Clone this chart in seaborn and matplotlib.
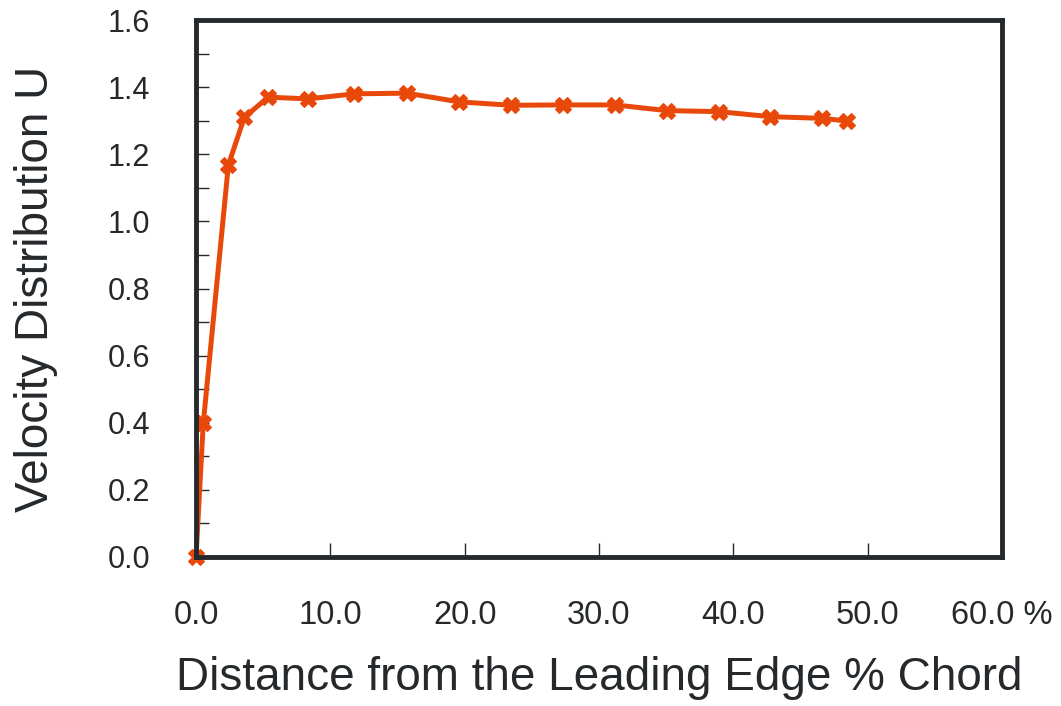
import matplotlib
matplotlib.use("Agg")
import matplotlib.pyplot as plt
import seaborn as sns
import pandas as pd
import numpy as np
from matplotlib.ticker import MultipleLocator

# Data
distance = [0.0, 0.54, 2.41, 3.60, 5.38, 8.36, 11.76, 15.69, 19.61, 23.43,
            27.35, 31.20, 35.05, 38.92, 42.74, 46.59, 48.45]
velocity = [0.0, 0.398, 1.168, 1.310, 1.370, 1.365, 1.380, 1.382, 1.356, 1.346,
            1.347, 1.347, 1.330, 1.327, 1.312, 1.307, 1.299]
x_tick_values = [0, 10, 20, 30, 40, 50, 60]
x_tick_labels = ["0.0", "10.0", "20.0", "30.0", "40.0", "50.0", "60.0 %"]
y_tick_values = [0.0, 0.2, 0.4, 0.6, 0.8, 1.0, 1.2, 1.4, 1.6]
y_tick_labels = ["0.0", "0.2", "0.4", "0.6", "0.8", "1.0", "1.2", "1.4", "1.6"]

df = pd.DataFrame({"distance": distance, "velocity": velocity})

sns.set_style("white")
plt.rcParams["font.family"] = ["Liberation Sans", "DejaVu Sans"]

ink = "#25292c"
line_color = "#e8490a"

fig = plt.figure(figsize=(10.61, 7.06), dpi=100)
ax = fig.add_axes([196 / 1061, 1 - 557 / 706, (1002 - 196) / 1061, (557 - 20) / 706])

sns.lineplot(data=df, x="distance", y="velocity", ax=ax, color=line_color,
             linewidth=3.6, marker="X", markersize=12, markeredgecolor=line_color,
             markerfacecolor=line_color, markeredgewidth=0.8, clip_on=False)

ax.set_xlim(0, 60)
ax.set_ylim(0, 1.6)
ax.set_xticks(x_tick_values)
ax.set_xticklabels(x_tick_labels)
ax.set_yticks(y_tick_values)
ax.set_yticklabels(y_tick_labels)
ax.yaxis.set_minor_locator(MultipleLocator(0.1))

for s in ax.spines.values():
    s.set_linewidth(3.5)
    s.set_color(ink)

ax.tick_params(axis="both", which="both", direction="in", colors=ink,
               labelcolor=ink, width=1.0, bottom=True, left=True,
               top=False, right=False)
ax.tick_params(axis="x", which="major", length=10, pad=31, labelsize=23.5)
ax.tick_params(axis="y", which="major", length=9, pad=33, labelsize=22)
ax.tick_params(axis="y", which="minor", length=9, width=1.0, left=True)

ax.set_xlabel("Distance from the Leading Edge % Chord", fontsize=33, color=ink, labelpad=18)
ax.set_ylabel("Velocity Distribution U", fontsize=33, color=ink, labelpad=36)

fig.savefig("out.png", dpi=100, facecolor="white")
